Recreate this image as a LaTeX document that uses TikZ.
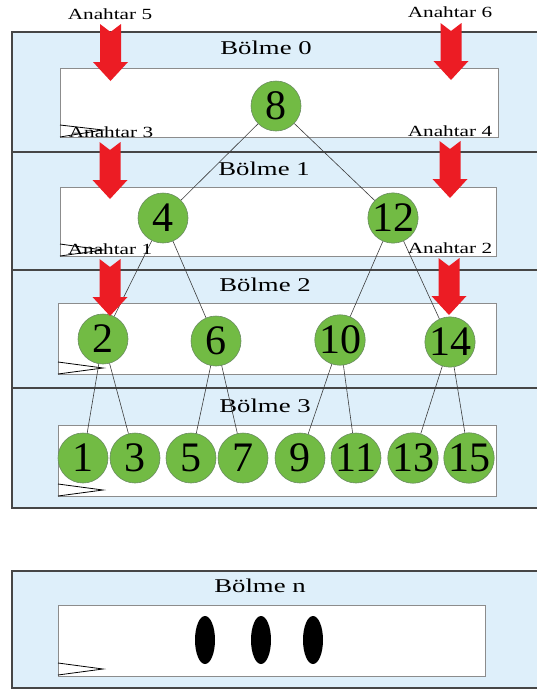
\documentclass[tikz,border=0pt]{standalone}
\usepackage{fontspec}
\setmainfont{Liberation Serif}
\newfontfamily\widefont[FakeStretch=1.37]{Liberation Serif}

\definecolor{panelblue}{RGB}{222,239,250}
\definecolor{panelline}{RGB}{70,70,70}
\definecolor{boxline}{RGB}{140,140,140}
\definecolor{leafgreen}{RGB}{114,187,68}
\definecolor{leafline}{RGB}{105,140,95}
\definecolor{keyred}{RGB}{236,28,36}
\definecolor{edgegray}{RGB}{60,60,60}

\tikzset{
  panel/.style={fill=panelblue, draw=panelline, line width=1.1pt},
  innerbox/.style={fill=white, draw=boxline, line width=1pt},
  wedge/.style={draw=black, line width=0.8pt, line join=miter},
  edge/.style={draw=edgegray, line width=0.6pt},
  tnode/.style={circle, minimum size=50pt, inner sep=0pt, fill=leafgreen,
    draw=leafline, line width=0.6pt, font=\fontsize{42}{42}\selectfont},
  keylabel/.style={inner sep=0pt, font=\widefont\fontsize{15.5}{16}\selectfont},
  partlabel/.style={inner sep=0pt, font=\widefont\fontsize{19.5}{20}\selectfont},
  keyarrow/.pic={
    \fill[keyred] (-10.5,0) -- (0,8) -- (10.5,0) -- (10.5,38) -- (17.5,38)
      -- (0,57) -- (-17.5,38) -- (-10.5,38) -- cycle;
  }
}

\begin{document}
\begin{tikzpicture}[x=1pt, y=-1pt]
\useasboundingbox (0,0) rectangle (537,691);
\clip (0,0) rectangle (537,691);

% partition panels
\foreach \t/\b in {32/152, 152/270, 270/388, 388/508, 571/688}
  \draw[panel] (12,\t) rectangle (545,\b);

% inner white boxes
\draw[innerbox] (60,68) rectangle (498,137);
\draw[innerbox] (60,187) rectangle (496,256);
\draw[innerbox] (58,303) rectangle (496,374);
\draw[innerbox] (58,425) rectangle (496,496);
\draw[innerbox] (58,605) rectangle (485,676);

% small wedge marks in the box corners
\draw[wedge] (60,125) -- (103,130) -- (60,137);
\draw[wedge] (60,244) -- (103,250) -- (60,256);
\draw[wedge] (58,362) -- (103,368) -- (58,374);
\draw[wedge] (58,484) -- (103,490) -- (58,496);
\draw[wedge] (58,663) -- (103,669) -- (58,675);

% partition titles
\node[partlabel] (b0) at (266,48) {Bölme 0};
\node[partlabel] (b1) at (264,169) {Bölme 1};
\node[partlabel] (b2) at (265,285) {Bölme 2};
\node[partlabel] (b3) at (265,406) {Bölme 3};
\node[partlabel] (bn) at (260,586) {Bölme n};

% tree nodes
\node[tnode] (n8)  at (276,106) {8};
\node[tnode] (n4)  at (163,218) {4};
\node[tnode] (n12) at (393,218) {12};
\node[tnode] (n2)  at (103,339) {2};
\node[tnode] (n6)  at (216,341) {6};
\node[tnode] (n10) at (340,340) {10};
\node[tnode] (n14) at (450,342) {14};
\node[tnode] (n1)  at (83,458)  {1};
\node[tnode] (n3)  at (135,458) {3};
\node[tnode] (n5)  at (191,458) {5};
\node[tnode] (n7)  at (243,458) {7};
\node[tnode] (n9)  at (300,458) {9};
\node[tnode] (n11) at (356,458) {11};
\node[tnode] (n13) at (413,458) {13};
\node[tnode] (n15) at (469,458) {15};

% tree edges
\draw[edge] (n8) -- (n4);
\draw[edge] (n8) -- (n12);
\draw[edge] (n4) -- (n2);
\draw[edge] (n4) -- (n6);
\draw[edge] (n12) -- (n10);
\draw[edge] (n12) -- (n14);
\draw[edge] (n2) -- (n1);
\draw[edge] (n2) -- (n3);
\draw[edge] (n6) -- (n5);
\draw[edge] (n6) -- (n7);
\draw[edge] (n10) -- (n9);
\draw[edge] (n10) -- (n11);
\draw[edge] (n14) -- (n13);
\draw[edge] (n14) -- (n15);

% ellipsis marks for further partitions
\fill (205,640) ellipse [x radius=10pt, y radius=24pt];
\fill (261,640) ellipse [x radius=10pt, y radius=24pt];
\fill (313,640) ellipse [x radius=10pt, y radius=24pt];

% key arrows
\pic at (110.5,24) {keyarrow};
\pic at (451,23)   {keyarrow};
\pic at (110,142)  {keyarrow};
\pic at (450,141)  {keyarrow};
\pic at (110,259)  {keyarrow};
\pic at (449,258)  {keyarrow};

% key labels
\node[keylabel] (k5) at (110,14)  {Anahtar 5};
\node[keylabel] (k6) at (450,12)  {Anahtar 6};
\node[keylabel] (k3) at (111,132) {Anahtar 3};
\node[keylabel] (k4) at (450,131) {Anahtar 4};
\node[keylabel] (k1) at (110,249) {Anahtar 1};
\node[keylabel] (k2) at (450,248) {Anahtar 2};
\end{tikzpicture}
\end{document}
